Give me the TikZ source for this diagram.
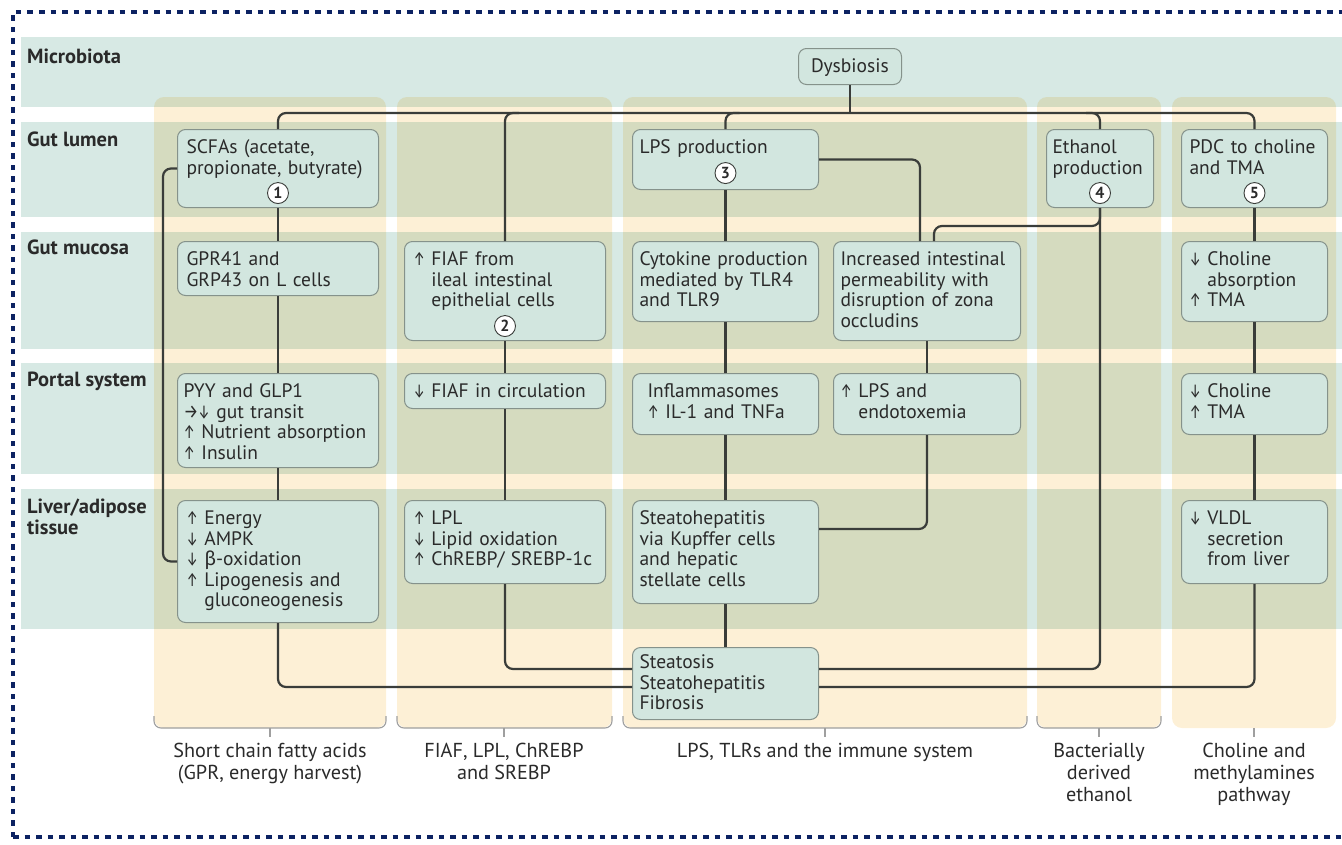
\documentclass[tikz,border=0pt]{standalone}
\usepackage{fontspec}
\usepackage{graphicx}
\setmainfont{PT Sans}
\newfontfamily\greekfont{Fira Sans}
\usetikzlibrary{positioning,calc}
\definecolor{band}{HTML}{D7E9E4}
\definecolor{column}{HTML}{FDF0D6}
\definecolor{boxfill}{HTML}{D2E6DF}
\definecolor{boxline}{HTML}{85928B}
\definecolor{wire}{HTML}{3A3D3A}
\definecolor{navy}{HTML}{0C2262}
\definecolor{ink}{HTML}{2A2A2A}
\newcommand\upar{\scalebox{0.65}[1]{\greekfont ↑}}
\newcommand\dnar{\scalebox{0.65}[1]{\greekfont ↓}}
\newcommand\rtar{\scalebox{0.85}[1]{\greekfont →}}
\newcommand\ind{\hphantom{\upar\ }}
\hyphenpenalty=10000
\exhyphenpenalty=10000

\begin{document}
\begin{tikzpicture}
    [x=1pt,y=-1pt,
    box/.style={
      rectangle,
      draw=boxline,
      fill=boxfill,
      line width=1pt,
      rounded corners=8pt,
      anchor=north west,
      align=left,
      inner xsep=9pt,
      inner ysep=0pt,
      text height=24pt,
      text=ink,
      font=\fontsize{19.5pt}{20.5pt}\selectfont
    },
    num/.style={
      circle,
      draw=wire,
      fill=white,
      line width=0.9pt,
      inner sep=0pt,
      minimum size=21pt,
      text=ink,
      font=\bfseries\fontsize{16pt}{16pt}\selectfont
    },
    rowlabel/.style={
      anchor=north west,
      align=left,
      inner sep=0pt,
      text=ink,
      font=\bfseries\fontsize{20.5pt}{21pt}\selectfont
    },
    collabel/.style={
      anchor=north,
      align=center,
      inner sep=0pt,
      text=ink,
      font=\fontsize{20.2pt}{22pt}\selectfont
    },
    conn/.style={
      draw=wire,
      line width=2.2pt,
      rounded corners=8pt
    },
    bracket/.style={
      draw=gray!75,
      line width=1.1pt,
      rounded corners=7pt
    }
  ]
    \useasboundingbox (0,0) rectangle (1342,844);
    % bands
    \fill[band] (21,37) rectangle (1342,107);
    \fill[band] (21,122) rectangle (1342,217);
    \fill[band] (21,232) rectangle (1342,349);
    \fill[band] (21,363) rectangle (1342,474);
    \fill[band] (21,489) rectangle (1342,629);
    % columns
    \begin{scope}[blend mode=multiply]
    \fill[column, rounded corners=10pt] (154,97) rectangle (386,728);
    \fill[column, rounded corners=10pt] (397,97) rectangle (612,728);
    \fill[column, rounded corners=10pt] (623,97) rectangle (1027,728);
    \fill[column, rounded corners=10pt] (1037,97) rectangle (1161,728);
    \fill[column, rounded corners=10pt] (1172,97) rectangle (1336,728);
    \end{scope}
    \draw[bracket] (154,716) -- (154,728) -- (386,728) -- (386,716);
    \draw[bracket] (397,716) -- (397,728) -- (612,728) -- (612,716);
    \draw[bracket] (623,716) -- (623,728) -- (1027,728) -- (1027,716);
    \draw[bracket] (1037,716) -- (1037,728) -- (1161,728) -- (1161,716);
    \draw[gray!75, line width=1.1pt] (270,728) -- (270,737);
    \draw[gray!75, line width=1.1pt] (504,728) -- (504,737);
    \draw[gray!75, line width=1.1pt] (825,728) -- (825,737);
    \draw[gray!75, line width=1.1pt] (1099,728) -- (1099,737);
    \draw[gray!75, line width=1.1pt] (1254,728) -- (1254,737);
    % frame
    \draw[navy, line width=4.5pt, dash pattern=on 5.5pt off 6pt] (13,837) -- (13,12) -- (1360,12);
    \draw[navy, line width=4.5pt, dash pattern=on 5.5pt off 6pt] (13,837) -- (1360,837);

    % row names
    \node[rowlabel] (rmicro) at (27,49) {Microbiota};
    \node[rowlabel] (rlumen) at (27,132) {Gut lumen};
    \node[rowlabel] (rmucosa) at (27,240) {Gut mucosa};
    \node[rowlabel] (rportal) at (27,372) {Portal system};
    \node[rowlabel] (rliver) at (27,499) {Liver/adipose\\tissue};

    % boxes
    \path (798,48) node[box, text width=85pt, align=center, text depth=12pt] (dys) {Dysbiosis};
    \path (177,129) node[box, text width=183pt, text depth=54pt] (scfa) {SCFAs (acetate,\\propionate, butyrate)}
          (177,241) node[box, text width=183pt, text depth=30pt] (gpr) {GPR41 and\\GRP43 on L cells}
          (177,373) node[box, text width=189pt, inner xsep=6pt, text depth=70pt] (pyy) {PYY and GLP1\\\rtar\dnar\ gut transit\\\upar\ Nutrient absorption\\\upar\ Insulin}
          (177,500) node[box, text width=183pt, text depth=98pt] (energy) {\upar\ Energy\\\dnar\ AMPK\\\dnar\ {\greekfont β}-oxidation\\\upar\ Lipogenesis and\\\ind gluconeogenesis};
    \path (404,241) node[box, text width=183pt, text depth=75pt] (fiaf) {\upar\ FIAF from\\\ind ileal intestinal\\\ind epithelial cells}
          (404,373) node[box, text width=183pt, text depth=11pt] (circ) {\dnar\ FIAF in circulation}
          (404,500) node[box, text width=183pt, text depth=59pt] (lpl) {\upar\ LPL\\\dnar\ Lipid oxidation\\\upar\ ChREBP/ SREBP-1c};
    \path (632,129) node[box, text width=172pt, inner xsep=7pt, text depth=36pt] (lps) {LPS production}
          (632,241) node[box, text width=172pt, inner xsep=7pt, text depth=56pt] (cyto) {Cytokine production\\mediated by TLR4\\and TLR9}
          (632,373) node[box, text width=156pt, inner xsep=15pt, text depth=37pt] (infl) {Inflammasomes\\\upar\ IL-1 and TNFa}
          (632,500) node[box, text width=172pt, inner xsep=7pt, text depth=79pt] (kupf) {Steatohepatitis\\via Kupffer cells\\and hepatic\\stellate cells}
          (632,647) node[box, text width=172pt, inner xsep=7pt, text height=21pt, text depth=51pt] (steat) {Steatosis\\Steatohepatitis\\Fibrosis};
    \path (833,241) node[box, text width=173pt, inner xsep=7pt, text depth=75pt] (perm) {Increased intestinal\\permeability with\\disruption of zona\\occludins}
          (833,373) node[box, text width=173pt, inner xsep=7pt, text depth=37pt] (endo) {\upar\ LPS and\\\ind endotoxemia};
    \path (1046,129) node[box, text width=95pt, inner xsep=6pt, text depth=54pt] (eth) {Ethanol\\production};
    \path (1181,129) node[box, text width=130pt, inner xsep=8pt, text depth=54pt] (pdc) {PDC to choline\\and TMA}
          (1181,241) node[box, text width=130pt, inner xsep=8pt, text depth=56pt] (chabs) {\dnar\ Choline\\\ind absorption\\\upar\ TMA}
          (1181,373) node[box, text width=130pt, inner xsep=8pt, text depth=37pt] (chtma) {\dnar\ Choline\\\upar\ TMA}
          (1181,500) node[box, text width=130pt, inner xsep=8pt, text depth=59pt] (vldl) {\dnar\ VLDL\\\ind secretion\\\ind from liver};

    % numbers
    \node[num, above=4pt of scfa.south] (n1) {1};
    \node[num, above=4pt of fiaf.south] (n2) {2};
    \node[num, above=6pt of lps.south] (n3) {3};
    \node[num, above=4pt of eth.south] (n4) {4};
    \node[num, above=4pt of pdc.south] (n5) {5};

    % rails
    \coordinate (bus) at (0,113);
    \coordinate (uprail) at (0,669);
    \coordinate (lowrail) at (0,687);
    \coordinate (midrail) at (0,529);

    % connectors
    \draw[conn] (scfa.north) -- (scfa.north |- bus) -- (pdc.north |- bus) -- (pdc.north);
    \draw[conn] (dys.south) -- (dys.south |- bus);
    \draw[conn] (fiaf.north) -- (fiaf.north |- bus) -- ++(14,0);
    \draw[conn] (lps.north) -- (lps.north |- bus) -- ++(14,0);
    \draw[conn] (eth.north) -- (eth.north |- bus) -- ++(-14,0);
    \draw[conn] (scfa) -- (gpr);
    \draw[conn] (gpr) -- (pyy);
    \draw[conn] (pyy) -- (energy);
    \draw[conn] (scfa.west) -- ++(-14,0) |- (energy.west);
    \draw[conn] (energy.south) |- (steat.west |- lowrail);
    \draw[conn] (fiaf) -- (circ);
    \draw[conn] (circ) -- (lpl);
    \draw[conn] (lpl.south) |- (steat.west |- uprail);
    \draw[conn] (lps) -- (cyto);
    \draw[conn] (cyto) -- (infl);
    \draw[conn] (infl) -- (kupf);
    \draw[conn] (kupf) -- (steat);
    \draw[conn] (lps.east) -| ([xshift=-7pt]perm.north);
    \draw[conn] (eth.south) -- ++(0,18) -| ([xshift=7pt]perm.north);
    \draw[conn] (eth.south) |- (steat.east |- uprail);
    \draw[conn] (perm) -- (endo);
    \draw[conn] (endo.south) |- (kupf.east |- midrail);
    \draw[conn] (pdc) -- (chabs);
    \draw[conn] (chabs) -- (chtma);
    \draw[conn] (chtma) -- (vldl);
    \draw[conn] (vldl.south) |- (steat.east |- lowrail);

    % column names
    \node[collabel] (lab1) at (270,743) {Short chain fatty acids\\(GPR, energy harvest)};
    \node[collabel] (lab2) at (504,743) {FIAF, LPL, ChREBP\\and SREBP};
    \node[collabel] (lab3) at (825,743) {LPS, TLRs and the immune system};
    \node[collabel] (lab4) at (1099,743) {Bacterially\\derived\\ethanol};
    \node[collabel] (lab5) at (1254,743) {Choline and\\methylamines\\pathway};
\end{tikzpicture}
\end{document}
